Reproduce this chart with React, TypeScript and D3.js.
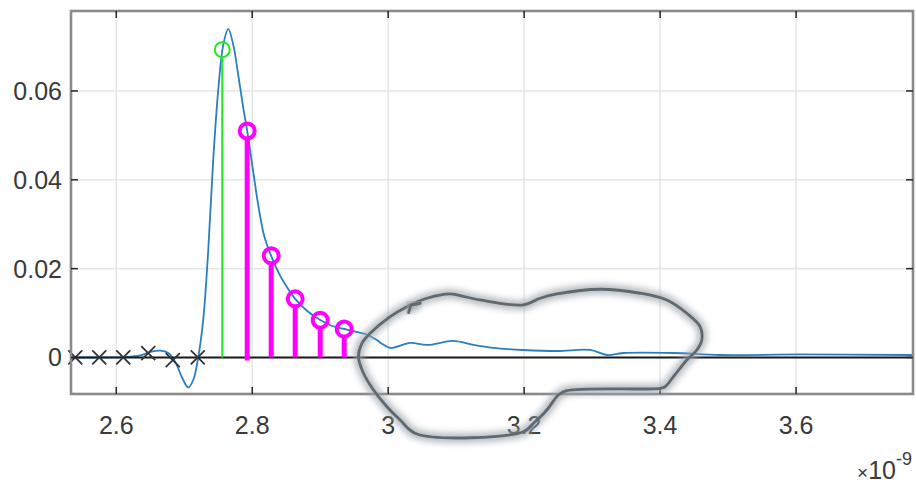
import React, { useRef, useEffect } from "react";
import * as d3 from "d3";

const width = 916;
const height = 485;

// axes box in pixels
const left = 71;
const right = 913;
const top = 11;
const bottom = 394;

const xTicks = [2.6, 2.8, 3, 3.2, 3.4, 3.6];
const yTicks = [0, 0.02, 0.04, 0.06];

// response curve (x in 1e-9 units)
const curveX = [
  2.5338, 2.5765, 2.6132, 2.6353, 2.65, 2.6647, 2.6765, 2.6868, 2.6971, 2.7059,
  2.7132, 2.7206, 2.7279, 2.7353, 2.7426, 2.75, 2.7574, 2.7647, 2.7721, 2.7794,
  2.7868, 2.7926, 2.8, 2.8088, 2.8176, 2.8279, 2.8412, 2.8529, 2.8632, 2.8809,
  2.9, 2.9176, 2.9353, 2.9529, 2.9662, 2.9809, 2.9912, 3.0029, 3.0118, 3.0324,
  3.0574, 3.0956, 3.125, 3.1544, 3.1985, 3.2485, 3.2971, 3.3221, 3.3456, 3.4191,
  3.4882, 3.6059, 3.772,
];
const curveY = [
  0, 0, 0.0001, 0.00045, 0.00124, 0.00153, 0.00101, -0.00101, -0.00462, -0.00676,
  -0.00507, 0.0001, 0.00845, 0.02421, 0.04448, 0.06025, 0.07038, 0.07399, 0.07038, 0.06363,
  0.0562, 0.05101, 0.04336, 0.03435, 0.02736, 0.02286, 0.01836, 0.01543, 0.01318, 0.01047,
  0.00845, 0.00709, 0.00642, 0.00574, 0.00529, 0.00417, 0.00304, 0.00214, 0.00236, 0.00327,
  0.00282, 0.00372, 0.00282, 0.00214, 0.00169, 0.00146, 0.00169, 0.00056, 0.00101, 0.00101,
  0.00056, 0.00068, 0.00056,
];

// samples
const crossX = [2.5397, 2.575, 2.6103, 2.647, 2.6831, 2.7199];
const crossY = [0, 0, 0, 0.001, -0.0006, 0];
const greenX = [2.7559];
const greenY = [0.0693];
const magentaX = [2.7926, 2.8279, 2.8632, 2.9, 2.9353];
const magentaY = [0.051, 0.0229, 0.0132, 0.0084, 0.0064];

// hand-drawn annotation loop (data coords)
const loopX = [
  2.9735, 3.0029, 3.0275, 3.0569, 3.0912, 3.101, 3.1353, 3.199, 3.2235, 3.2481,
  3.3118, 3.3706, 3.4099, 3.4393, 3.4588, 3.4613, 3.454, 3.4393, 3.4196, 3.4074,
  3.4, 3.2628, 3.2504, 3.2334, 3.2137, 3.199, 3.0422, 3.0176, 2.9981, 2.9784,
  2.9637, 2.9563, 2.9613,
];
const loopY = [
  0.00545, 0.00919, 0.01144, 0.01333, 0.0143, 0.01408, 0.01295, 0.01182, 0.01333, 0.0143,
  0.01536, 0.01446, 0.01295, 0.00995, 0.00694, 0.00394, 0.00169, -0.00056, -0.00432, -0.00658,
  -0.00694, -0.00748, -0.00845, -0.01182, -0.01482, -0.01671, -0.01723, -0.01408, -0.01108, -0.00732,
  -0.00356, 0.00018, 0.0032,
];
const nickX = [3.03, 3.0334, 3.0471];
const nickY = [0.0101, 0.0118, 0.0122];

const font = "'Liberation Sans', Arial, sans-serif";

export default function App() {
  const ref = useRef<SVGSVGElement | null>(null);

  useEffect(() => {
    const svg = d3.select(ref.current);
    svg.selectAll("*").remove();

    const x = d3.scaleLinear().domain([2.5334, 3.772]).range([left, right]);
    const y = d3.scaleLinear().domain([-0.00822, 0.078]).range([bottom, top]);

    const defs = svg.append("defs");
    defs
      .append("filter")
      .attr("id", "halo")
      .attr("x", "-20%")
      .attr("y", "-20%")
      .attr("width", "140%")
      .attr("height", "140%")
      .append("feGaussianBlur")
      .attr("stdDeviation", 3);

    // grid
    const grid = svg.append("g").attr("stroke", "#e6e6e6").attr("stroke-width", 1.5);
    xTicks.forEach((t) =>
      grid.append("line").attr("x1", x(t)).attr("x2", x(t)).attr("y1", top).attr("y2", bottom)
    );
    yTicks.forEach((t) =>
      grid.append("line").attr("x1", left).attr("x2", right).attr("y1", y(t)).attr("y2", y(t))
    );

    // blue curve
    const pts = curveX.map((v, i) => [v, curveY[i]] as [number, number]);
    svg
      .append("path")
      .attr(
        "d",
        d3
          .line<[number, number]>()
          .x((d) => x(d[0]))
          .y((d) => y(d[1]))
          .curve(d3.curveCatmullRom.alpha(0.5))(pts)
      )
      .attr("fill", "none")
      .attr("stroke", "#2a7fc2")
      .attr("stroke-width", 1.8);

    // baseline
    svg
      .append("line")
      .attr("x1", left)
      .attr("x2", right)
      .attr("y1", y(0))
      .attr("y2", y(0))
      .attr("stroke", "#1a1a1a")
      .attr("stroke-width", 1.8);

    // green stem
    greenX.forEach((v, i) => {
      svg
        .append("line")
        .attr("x1", x(v))
        .attr("x2", x(v))
        .attr("y1", y(0))
        .attr("y2", y(greenY[i]) + 7.5)
        .attr("stroke", "#22e822")
        .attr("stroke-width", 2);
      svg
        .append("circle")
        .attr("cx", x(v))
        .attr("cy", y(greenY[i]))
        .attr("r", 7.5)
        .attr("fill", "none")
        .attr("stroke", "#22e822")
        .attr("stroke-width", 2);
    });

    // magenta stems
    magentaX.forEach((v, i) => {
      svg
        .append("line")
        .attr("x1", x(v))
        .attr("x2", x(v))
        .attr("y1", y(0) + (i === 0 ? 3 : 0))
        .attr("y2", y(magentaY[i]) + 7)
        .attr("stroke", "#ff00ff")
        .attr("stroke-width", 5);
      svg
        .append("circle")
        .attr("cx", x(v))
        .attr("cy", y(magentaY[i]))
        .attr("r", 7.5)
        .attr("fill", "none")
        .attr("stroke", "#ff00ff")
        .attr("stroke-width", 4);
    });

    // x markers
    crossX.forEach((v, i) => {
      const cx = x(v);
      const cy = y(crossY[i]);
      const s = 7;
      svg
        .append("path")
        .attr("d", `M${cx - s},${cy - s}L${cx + s},${cy + s}M${cx - s},${cy + s}L${cx + s},${cy - s}`)
        .attr("stroke", "#333")
        .attr("stroke-width", 1.8);
    });

    // axes box
    svg
      .append("rect")
      .attr("x", left)
      .attr("y", top)
      .attr("width", right - left)
      .attr("height", bottom - top)
      .attr("fill", "none")
      .attr("stroke", "#8a8a8a")
      .attr("stroke-width", 2.6);

    const ticks = svg.append("g").attr("stroke", "#262626").attr("stroke-width", 1.5);
    xTicks.forEach((t) => {
      ticks.append("line").attr("x1", x(t)).attr("x2", x(t)).attr("y1", bottom).attr("y2", bottom - 7);
      ticks.append("line").attr("x1", x(t)).attr("x2", x(t)).attr("y1", top).attr("y2", top + 7);
    });
    yTicks.forEach((t) => {
      ticks.append("line").attr("x1", left).attr("x2", left + 7).attr("y1", y(t)).attr("y2", y(t));
      ticks.append("line").attr("x1", right).attr("x2", right - 7).attr("y1", y(t)).attr("y2", y(t));
    });

    // tick labels
    svg
      .append("g")
      .selectAll("text")
      .data(xTicks)
      .enter()
      .append("text")
      .attr("x", (d) => x(d))
      .attr("y", 434)
      .attr("text-anchor", "middle")
      .attr("font-family", font)
      .attr("font-size", 25)
      .attr("fill", "#3a3a3a")
      .text((d) => d3.format("")(d));

    svg
      .append("g")
      .selectAll("text")
      .data(yTicks)
      .enter()
      .append("text")
      .attr("x", 62)
      .attr("y", (d) => y(d) + 9)
      .attr("text-anchor", "end")
      .attr("font-family", font)
      .attr("font-size", 25)
      .attr("fill", "#3a3a3a")
      .text((d) => d3.format("")(d));

    // exponent
    const ex = svg
      .append("text")
      .attr("x", 912)
      .attr("y", 479)
      .attr("text-anchor", "end")
      .attr("font-family", font)
      .attr("font-size", 25)
      .attr("fill", "#3a3a3a");
    ex.append("tspan").attr("font-size", 19).text("×");
    ex.append("tspan").text("10");
    ex.append("tspan").attr("dy", -14).attr("font-size", 18).text("-9");

    // annotation loop
    const loopPts = loopX.map((v, i) => [x(v), y(loopY[i])] as [number, number]);
    const loopPath = d3.line().curve(d3.curveCatmullRomClosed.alpha(0.5))(loopPts);
    const nickPath = d3.line()(nickX.map((v, i) => [x(v), y(nickY[i])] as [number, number]));
    [loopPath, nickPath].forEach((d) => {
      svg
        .append("path")
        .attr("d", d)
        .attr("fill", "none")
        .attr("stroke", "#9aa3a8")
        .attr("stroke-width", 10)
        .attr("stroke-linejoin", "round")
        .attr("opacity", 0.7)
        .attr("filter", "url(#halo)");
      svg
        .append("path")
        .attr("d", d)
        .attr("fill", "none")
        .attr("stroke", "#5f6a70")
        .attr("stroke-width", 2.8)
        .attr("stroke-linejoin", "round")
        .attr("stroke-linecap", "round");
    });
  }, []);

  return (
    <svg
      ref={ref}
      width={width}
      height={height}
      style={{ position: "absolute", left: 0, top: 0, background: "#fff" }}
    />
  );
}
